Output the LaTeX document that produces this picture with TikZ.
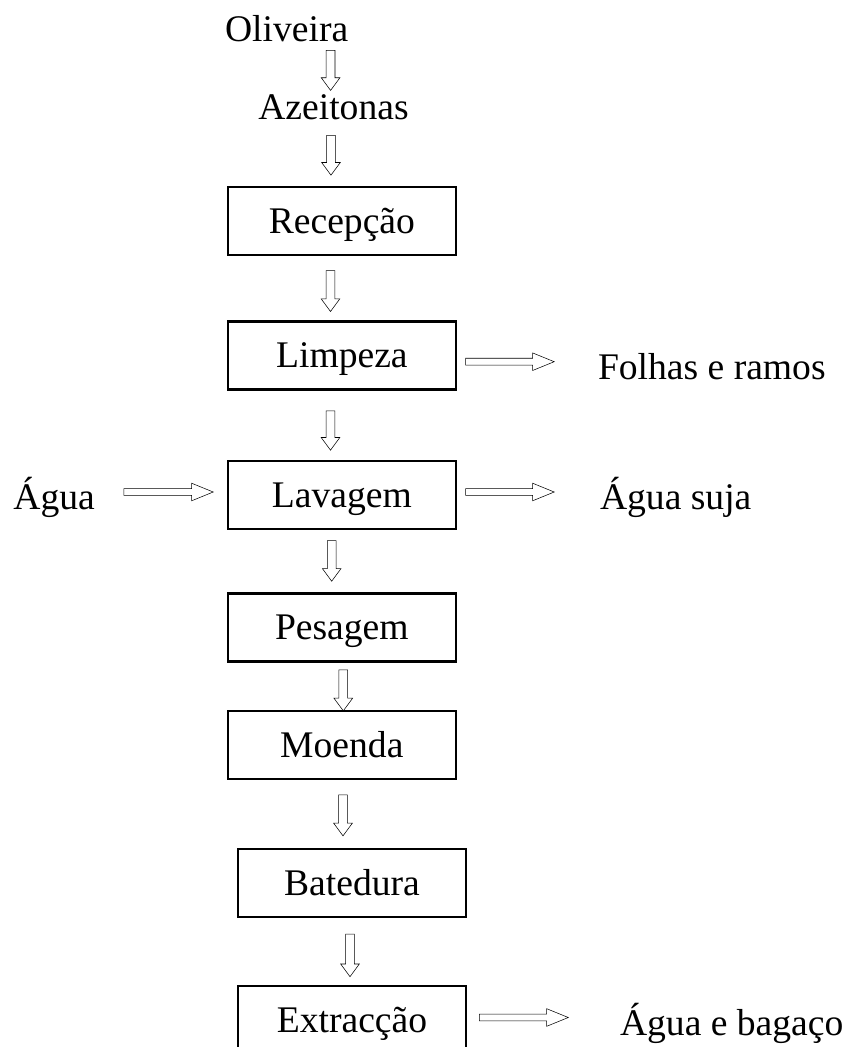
\documentclass[tikz,border=0pt]{standalone}
\usepackage{fontspec}
\setmainfont{Liberation Serif}
\usetikzlibrary{calc}
\tikzset{
  ax/.store in=\vax, ga/.store in=\vga, gb/.store in=\vgb, ay/.store in=\vay,
  ax=0, ga=0, gb=0, ay=0,
  txt/.style={font=\fontsize{28.2}{33}\selectfont},
  box/.style={txt, draw, line width=1.7pt, outer sep=0pt, minimum width=171.2pt,
    minimum height=51pt, inner sep=0pt, text height=18.7pt, text depth=0pt},
  lbl/.style={txt, inner sep=0pt, outer sep=0pt, anchor=base west},
  blk/.style={draw, line width=1.25pt, line join=miter},
  vblk/.style={blk, to path={
    let \p1=($(\tikztostart.south)+(\vax,\vga)$),
        \p2=($(\tikztotarget.north)+(0,-\vgb)$) in
    (\x1-3.3pt,\y1) -- (\x1-3.3pt,\y2+9.5pt) -- (\x1-7pt,\y2+9.5pt) -- (\x1,\y2)
    -- (\x1+7pt,\y2+9.5pt) -- (\x1+3.3pt,\y2+9.5pt) -- (\x1+3.3pt,\y1) -- cycle}},
  hR/.style={blk, to path={
    let \p1=($(\tikztostart.east)+(\vga,\vay)$),
        \p2=($(\tikztotarget.west)+(-\vgb,0)$) in
    (\x1,\y1+2.6pt) -- (\x2-16.2pt,\y1+2.6pt) -- (\x2-16.2pt,\y1+6.6pt) -- (\x2,\y1)
    -- (\x2-16.2pt,\y1-6.6pt) -- (\x2-16.2pt,\y1-2.6pt) -- (\x1,\y1-2.6pt) -- cycle}},
  hL/.style={blk, to path={
    let \p1=($(\tikztostart.east)+(\vga,0)$),
        \p2=($(\tikztotarget.west)+(-\vgb,\vay)$) in
    (\x1,\y2+2.6pt) -- (\x2-16.2pt,\y2+2.6pt) -- (\x2-16.2pt,\y2+6.6pt) -- (\x2,\y2)
    -- (\x2-16.2pt,\y2-6.6pt) -- (\x2-16.2pt,\y2-2.6pt) -- (\x1,\y2-2.6pt) -- cycle}}
}
\begin{document}
\begin{tikzpicture}[x=0.75pt, y=-0.75pt]
\useasboundingbox (0,0) rectangle (843,1047);
% labels
\node[lbl] (oli) at (225,41.7) {Oliveira};
\node[lbl] (aze) at (258.3,119.3) {Azeitonas};
\node[lbl] (folhas) at (598,379) {Folhas e ramos};
\node[lbl] (agua) at (13.5,509.5) {Água};
\node[lbl] (suja) at (600,509.5) {Água suja};
\node[lbl] (bag) at (620,1035) {Água e bagaço};
% boxes
\node[box] (rec) at (341.85,220.85) {Recepção};
\node[box] (lim) at (341.85,355.5) {Limpeza};
\node[box] (lav) at (341.85,495.15) {Lavagem};
\node[box] (pes) at (341.85,627.5) {Pesagem};
\node[box] (moe) at (341.85,745.15) {Moenda};
\node[box] (bat) at (352,883.15) {Batedura};
\node[box] (ext) at (352,1019.65) {Extracção};
% vertical arrows
\draw (oli) to[vblk, ax=44, ga=8.3, gb=4] (aze);
\draw (aze) to[vblk, ax=-2.5, ga=15.7, gb=11.7] (rec);
\draw (rec) to[vblk, ax=-11.35, ga=15.7, gb=10] (lim);
\draw (lim) to[vblk, ax=-11.35, ga=21.4, gb=11] (lav);
\draw (lav) to[vblk, ax=-10.15, ga=11.4, gb=12.3] (pes);
\draw (pes) to[vblk, ax=1.45, ga=8.3, gb=0.3] (moe);
\draw (moe) to[vblk, ax=1.15, ga=15.7, gb=13.3] (bat);
\draw (bat) to[vblk, ax=-2, ga=17, gb=9] (ext);
% horizontal arrows
\draw (lim) to[hR, ga=9.7, gb=43.8, ay=6.2] (folhas);
\draw (agua) to[hL, ga=29, gb=14.5, ay=-3.15] (lav);
\draw (lav) to[hR, ga=9.7, gb=45.8, ay=-3.15] (suja);
\draw (ext) to[hR, ga=13.25, gb=51.7, ay=-2.15] (bag);
\end{tikzpicture}
\end{document}
